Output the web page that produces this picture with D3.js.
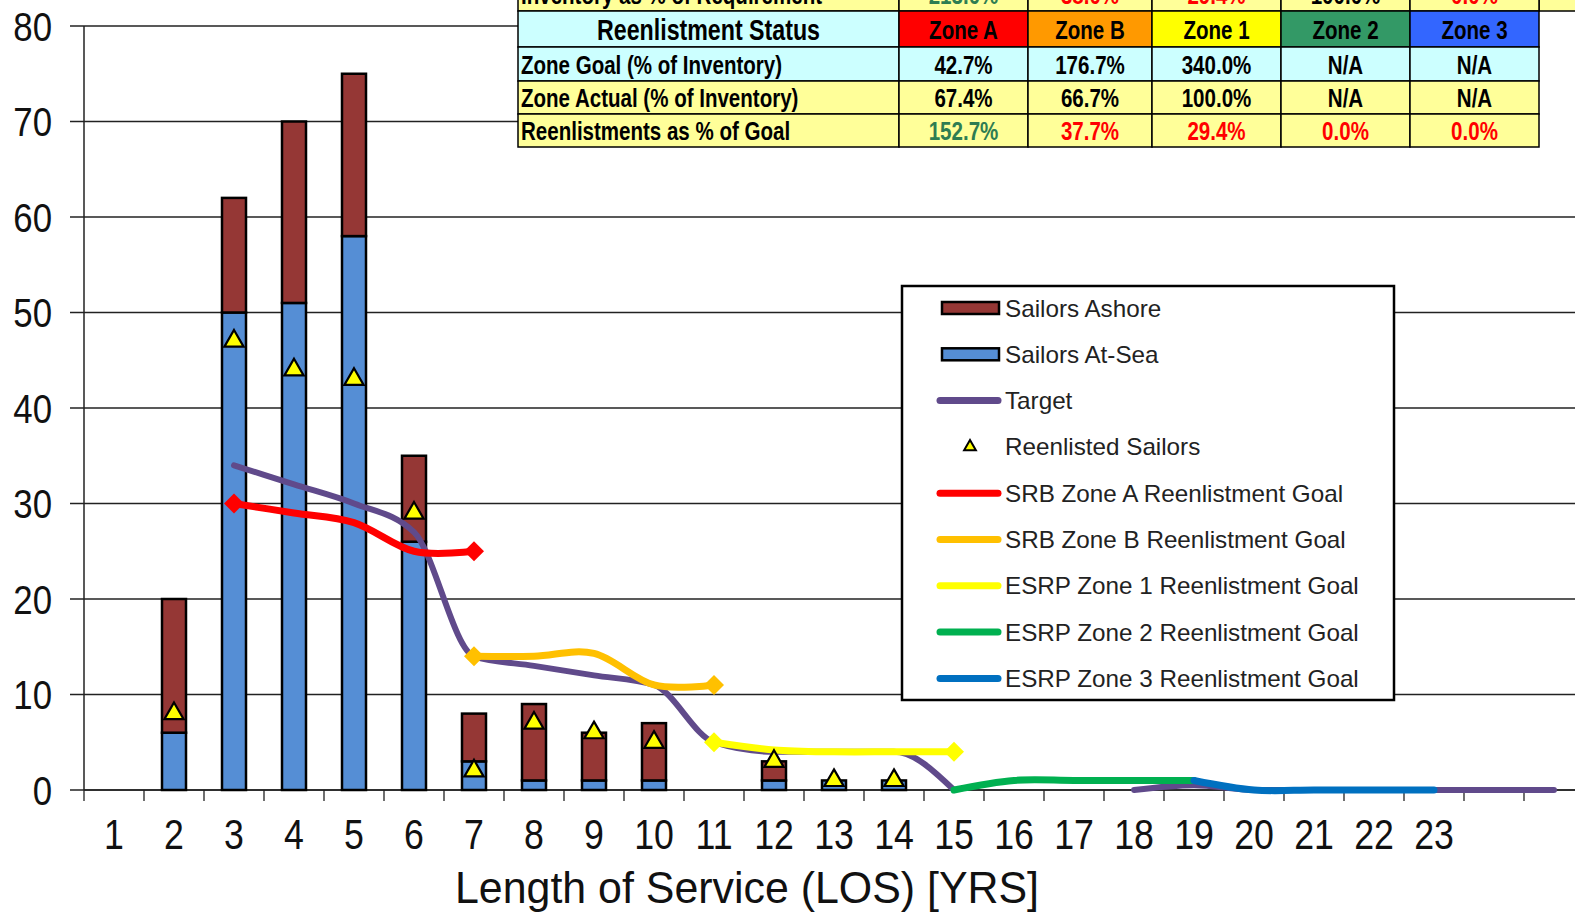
<!DOCTYPE html>
<html>
<head>
<meta charset="utf-8">
<script src="https://cdn.jsdelivr.net/npm/d3@7"></script>
<style>
  body { margin: 0; background: #fff; overflow: hidden; }
  svg { display: block; font-family: "Liberation Sans", Arial, sans-serif; }
</style>
</head>
<body>
<svg id="chart"></svg>
<script>
// ---- data ----
const losYears  = [1, 2, 3, 4, 5, 6, 7, 8, 9, 10, 11, 12, 13, 14, 15, 16, 17, 18, 19, 20, 21, 22, 23, 24, 25];
const losLabels = ['1','2','3','4','5','6','7','8','9','10','11','12','13','14','15','16','17','18','19','20','21','22','23','',''];
const yTicks    = [0, 10, 20, 30, 40, 50, 60, 70, 80];

const atSea      = [0, 6, 50, 51, 58, 26, 3, 1, 1, 1, 0, 1, 1, 1, 0, 0, 0, 0, 0, 0, 0, 0, 0, 0, 0];
const ashore     = [0, 14, 12, 19, 17, 9, 5, 8, 5, 6, 0, 2, 0, 0, 0, 0, 0, 0, 0, 0, 0, 0, 0, 0, 0];
const reenlisted = [null, 8, 47, 44, 43, 29, 2, 7, 6, 5, null, 3, 1, 1, null, null, null, null, null, null, null, null, null, null, null];
const target     = [null, null, 34, 32, 30, 27, 14, 13, 12, 11, 5, 4, 4, 4, 0, null, null, 0, 0.5, 0, 0, 0, 0, 0, 0];
const zoneA      = [null, null, 30, 29, 28, 25, 25, null, null, null, null, null, null, null, null, null, null, null, null, null, null, null, null, null, null];
const zoneB      = [null, null, null, null, null, null, 14, 14, 14.3, 11, 11, null, null, null, null, null, null, null, null, null, null, null, null, null, null];
const zone1      = [null, null, null, null, null, null, null, null, null, null, 5, 4.2, 4, 4, 4, null, null, null, null, null, null, null, null, null, null];
const zone2      = [null, null, null, null, null, null, null, null, null, null, null, null, null, null, 0, 1, 1, 1, 1, null, null, null, null, null, null];
const zone3      = [null, null, null, null, null, null, null, null, null, null, null, null, null, null, null, null, null, null, 1, 0, 0, 0, 0, null, null];

const tableZones  = ['Zone A', 'Zone B', 'Zone 1', 'Zone 2', 'Zone 3'];
const invRow      = ['213.0%', '38.0%', '29.4%', '100.0%', '0.0%'];
const goalRow     = ['42.7%', '176.7%', '340.0%', 'N/A', 'N/A'];
const actualRow   = ['67.4%', '66.7%', '100.0%', 'N/A', 'N/A'];
const pctGoalRow  = ['152.7%', '37.7%', '29.4%', '0.0%', '0.0%'];

const legendLabels = ['Sailors Ashore', 'Sailors At-Sea', 'Target', 'Reenlisted Sailors',
  'SRB Zone A Reenlistment Goal', 'SRB Zone B Reenlistment Goal', 'ESRP Zone 1 Reenlistment Goal',
  'ESRP Zone 2 Reenlistment Goal', 'ESRP Zone 3 Reenlistment Goal'];

// ---- styles ----
const C = {
  ashore: '#953735', sea: '#558ed5', target: '#604a8b', tri: '#ffff00',
  zoneA: '#ff0000', zoneB: '#ffc000', zone1: '#ffff00', zone2: '#00b050', zone3: '#0070c0',
  cyan: '#ccffff', yellow: '#ffff99', green: '#2e7d52', red: '#ff0000'
};
const zoneHeadFill = ['#ff0000', '#ff9900', '#ffff00', '#339966', '#3366ff'];

const W = 1575, H = 913;
const m = { top: 26, left: 84, right: 1584, bottom: 790 };

const svg = d3.select('#chart').attr('width', W).attr('height', H).attr('viewBox', `0 0 ${W} ${H}`);

const x = d3.scaleBand().domain(losYears).range([m.left, m.right]).padding(0);
const y = d3.scaleLinear().domain([0, 80]).range([m.bottom, m.top]);
const cx = d => x(d) + x.bandwidth() / 2;

function stext(parent, px, py, str, o = {}) {
  return parent.append('text')
    .attr('transform', `translate(${px},${py}) scale(${o.sx || 1},1)`)
    .attr('text-anchor', o.anchor || 'start')
    .attr('font-size', o.size || 20)
    .attr('font-weight', o.weight || 'normal')
    .attr('fill', o.fill || '#000')
    .text(str);
}

// grid lines + left ticks
svg.append('g').selectAll('line').data(yTicks).join('line')
  .attr('x1', m.left - 14).attr('x2', m.right)
  .attr('y1', d => y(d)).attr('y2', d => y(d))
  .attr('stroke', '#222').attr('stroke-width', 1.3);

const yl = svg.append('g');
yTicks.forEach(v => stext(yl, 52, y(v) + 14.5, String(v), { size: 40, sx: 0.87, anchor: 'end', fill: '#111' }));

// axes
svg.append('line').attr('x1', m.left).attr('x2', m.left).attr('y1', m.top).attr('y2', m.bottom)
  .attr('stroke', '#222').attr('stroke-width', 1.5);
svg.append('line').attr('x1', m.left).attr('x2', m.right).attr('y1', m.bottom).attr('y2', m.bottom)
  .attr('stroke', '#222').attr('stroke-width', 1.5);
svg.append('g').selectAll('line').data(losYears).join('line')
  .attr('x1', d => x(d)).attr('x2', d => x(d))
  .attr('y1', m.bottom).attr('y2', m.bottom + 11)
  .attr('stroke', '#222').attr('stroke-width', 1.3);

const xl = svg.append('g');
losYears.forEach((d, i) => stext(xl, cx(d), 849, losLabels[i], { size: 42, sx: 0.85, anchor: 'middle', fill: '#111' }));
stext(svg, 747, 903, 'Length of Service (LOS) [YRS]', { size: 44, sx: 0.975, anchor: 'middle', fill: '#111' });

// stacked bars
const barW = 24;
const bars = svg.append('g').attr('stroke', '#000').attr('stroke-width', 2.5);
bars.selectAll('.sea').data(losYears.filter((d, i) => atSea[i] > 0)).join('rect')
  .attr('x', d => cx(d) - barW / 2).attr('width', barW)
  .attr('y', d => y(atSea[d - 1])).attr('height', d => y(0) - y(atSea[d - 1]))
  .attr('fill', C.sea);
bars.selectAll('.ash').data(losYears.filter((d, i) => ashore[i] > 0)).join('rect')
  .attr('x', d => cx(d) - barW / 2).attr('width', barW)
  .attr('y', d => y(atSea[d - 1] + ashore[d - 1])).attr('height', d => y(atSea[d - 1]) - y(atSea[d - 1] + ashore[d - 1]))
  .attr('fill', C.ashore);

// lines
const series = [
  { vals: target, color: C.target, w: 6, ends: false, curve: d3.curveMonotoneX },
  { vals: zoneA, color: C.zoneA, w: 7, ends: true, curve: d3.curveCardinal },
  { vals: zoneB, color: C.zoneB, w: 7, ends: true, curve: d3.curveCardinal },
  { vals: zone1, color: C.zone1, w: 7, ends: true, curve: d3.curveCardinal },
  { vals: zone2, color: C.zone2, w: 7, ends: false, curve: d3.curveCardinal },
  { vals: zone3, color: C.zone3, w: 7, ends: false, curve: d3.curveCardinal }
];
const lg = svg.append('g');
series.forEach(s => {
  const pts = losYears.map((k, i) => ({ k, v: s.vals[i] }));
  const lineGen = d3.line()
    .defined(d => d.v !== null)
    .x(d => cx(d.k)).y(d => y(d.v))
    .curve(s.curve);
  lg.append('path').attr('d', lineGen(pts))
    .attr('fill', 'none').attr('stroke', s.color).attr('stroke-width', s.w)
    .attr('stroke-linejoin', 'round').attr('stroke-linecap', 'round');
  if (s.ends) {
    const def = pts.filter(p => p.v !== null);
    lg.selectAll(null).data([def[0], def[def.length - 1]]).join('path')
      .attr('d', d3.symbol(d3.symbolSquare, 200)())
      .attr('transform', d => `translate(${cx(d.k)},${y(d.v)}) rotate(45)`)
      .attr('fill', s.color);
  }
});

// reenlisted markers
svg.append('g').selectAll('path')
  .data(losYears.filter((d, i) => reenlisted[i] !== null)).join('path')
  .attr('d', d3.symbol(d3.symbolTriangle, 160)())
  .attr('transform', d => `translate(${cx(d)},${y(reenlisted[d - 1])})`)
  .attr('fill', C.tri).attr('stroke', '#000').attr('stroke-width', 2.2);

// legend
const leg = svg.append('g');
leg.append('rect').attr('x', 902).attr('y', 286).attr('width', 492).attr('height', 414)
  .attr('fill', '#fff').attr('stroke', '#000').attr('stroke-width', 2.5);
const legKinds = ['bar', 'bar', 'line', 'tri', 'line', 'line', 'line', 'line', 'line'];
const legColors = [C.ashore, C.sea, C.target, C.tri, C.zoneA, C.zoneB, C.zone1, C.zone2, C.zone3];
legendLabels.forEach((lab, i) => {
  const ly = 308 + i * 46.3;
  if (legKinds[i] === 'bar') {
    leg.append('rect').attr('x', 942).attr('y', ly - 6).attr('width', 57).attr('height', 12)
      .attr('fill', legColors[i]).attr('stroke', '#000').attr('stroke-width', 2.5);
  } else if (legKinds[i] === 'line') {
    leg.append('line').attr('x1', 940).attr('x2', 998).attr('y1', ly).attr('y2', ly)
      .attr('stroke', legColors[i]).attr('stroke-width', 7).attr('stroke-linecap', 'round');
  } else {
    leg.append('path').attr('d', d3.symbol(d3.symbolTriangle, 60)())
      .attr('transform', `translate(970,${ly})`)
      .attr('fill', C.tri).attr('stroke', '#000').attr('stroke-width', 2);
  }
  stext(leg, 1005, ly + 8.5, lab, { size: 24, sx: 1.01, fill: '#222' });
});

// status table
const tb = svg.append('g');
const colX = [518, 899, 1028, 1152, 1281, 1410, 1539];
const rowY = [-22, 11, 47, 81, 114, 147];
tb.append('rect').attr('x', 1539).attr('y', 11).attr('width', 60).attr('height', 136).attr('fill', '#fff');
tb.append('rect').attr('x', 1539).attr('y', -22).attr('width', 60).attr('height', 33)
  .attr('fill', C.yellow).attr('stroke', '#000').attr('stroke-width', 1.5);

const rows = [
  { label: 'Inventory as % of Requirement', vals: invRow, bg: C.yellow,
    colors: [C.green, C.red, C.red, '#000', C.red] },
  { label: 'Reenlistment Status', vals: tableZones, bg: C.cyan, head: true },
  { label: 'Zone Goal (% of Inventory)', vals: goalRow, bg: C.cyan },
  { label: 'Zone Actual (% of Inventory)', vals: actualRow, bg: C.yellow },
  { label: 'Reenlistments as % of Goal', vals: pctGoalRow, bg: C.yellow,
    colors: [C.green, C.red, C.red, C.red, C.red] }
];
rows.forEach((r, ri) => {
  const y0 = rowY[ri], y1 = rowY[ri + 1], mid = (y0 + y1) / 2;
  for (let c = 0; c < 6; c++) {
    const fill = (r.head && c > 0) ? zoneHeadFill[c - 1] : r.bg;
    tb.append('rect').attr('x', colX[c]).attr('y', y0)
      .attr('width', colX[c + 1] - colX[c]).attr('height', y1 - y0)
      .attr('fill', fill).attr('stroke', '#000').attr('stroke-width', 1.5);
  }
  if (r.head) {
    stext(tb, (colX[0] + colX[1]) / 2, mid + 10.5, r.label, { size: 29, weight: 'bold', sx: 0.8, anchor: 'middle' });
  } else {
    stext(tb, colX[0] + 3, mid + 9.5, r.label, { size: 26, weight: 'bold', sx: 0.79 });
  }
  r.vals.forEach((v, c) => {
    stext(tb, (colX[c + 1] + colX[c + 2]) / 2, mid + 9.5, v,
      { size: 26, weight: 'bold', sx: 0.79, anchor: 'middle', fill: r.colors ? r.colors[c] : '#000' });
  });
});
</script>
</body>
</html>
